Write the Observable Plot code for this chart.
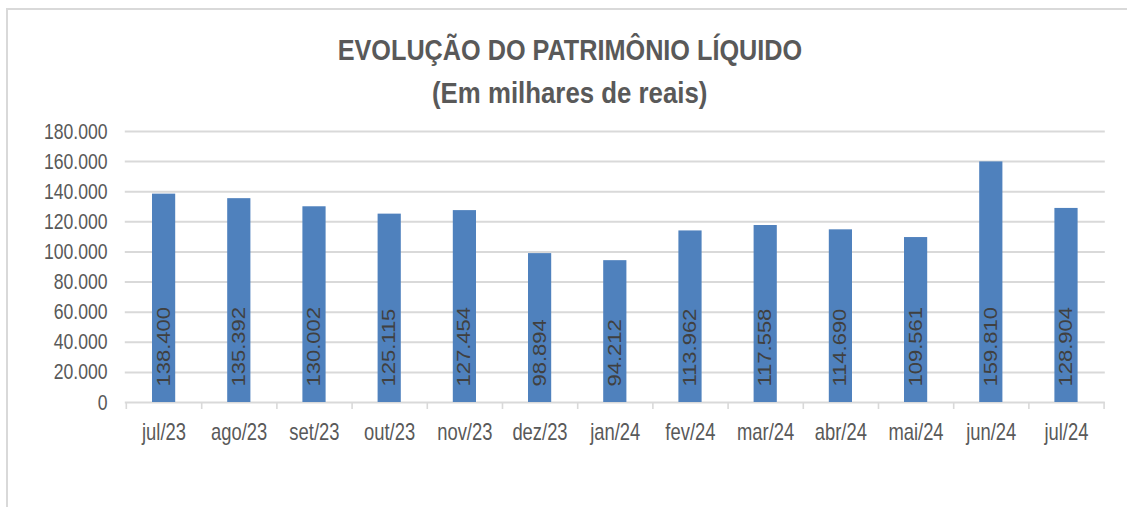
<!DOCTYPE html>
<html><head><meta charset="utf-8">
<script src="https://cdn.jsdelivr.net/npm/d3@7"></script>
<script src="https://cdn.jsdelivr.net/npm/@observablehq/plot@0.6"></script>
<style>
html,body{margin:0;padding:0;background:#fff;width:1127px;height:507px;overflow:hidden;}
#frame{position:absolute;left:6px;top:8px;width:1200px;height:600px;border-top:2px solid #d9d9d9;border-left:2px solid #d9d9d9;box-sizing:border-box;pointer-events:none;}
.t{position:absolute;left:0;width:1140px;text-align:center;color:#595959;font-family:"Liberation Sans",Arial,sans-serif;font-weight:bold;font-size:29px;line-height:1;white-space:nowrap;}
.t span{display:inline-block;transform-origin:50% 50%;}
#title{top:36px;}
#title span{transform:scaleX(0.87);}
#subtitle{top:79px;}
#subtitle span{transform:scaleX(0.89);}
#chart{position:absolute;left:0;top:100px;width:1409px;height:407px;transform:scaleX(0.8);transform-origin:0 0;}
#chart svg{max-width:none !important;width:1409px;height:407px;}
</style></head><body>
<div id="frame"></div>
<div class="t" id="title"><span>EVOLUÇÃO DO PATRIMÔNIO LÍQUIDO</span></div>
<div class="t" id="subtitle"><span>(Em milhares de reais)</span></div>
<div id="chart"></div>
<script>
const months = ["jul/23","ago/23","set/23","out/23","nov/23","dez/23","jan/24","fev/24","mar/24","abr/24","mai/24","jun/24","jul/24"];
const values = [138400, 135392, 130002, 125115, 127454, 98894, 94212, 113962, 117558, 114690, 109561, 159810, 128904];
const yTicks = [0, 20000, 40000, 60000, 80000, 100000, 120000, 140000, 160000, 180000];

const data = months.map((m, i) => ({month: m, value: values[i]}));
const loc = d3.formatLocale({decimal: ",", thousands: ".", grouping: [3], currency: ["R$", ""]});
const fmt = loc.format(",d");

// chart is drawn wider and squeezed horizontally (scaleX 0.8) like the reference
const W = 1409, H = 407, mL = 156, mR = 28, mT = 31, mB = 105;
const step = (W - mL - mR) / months.length;
const font = '"Liberation Sans", Arial, sans-serif';
const tickStyle = {y1: 0, y2: 0, insetBottom: -7, stroke: "#d9d9d9", strokeWidth: 2};

const chart = Plot.plot({
  width: W, height: H,
  marginLeft: mL, marginRight: mR, marginTop: mT, marginBottom: mB,
  style: {background: "none", fontFamily: font, fontSize: "22px", color: "#595959", overflow: "visible", maxWidth: "none"},
  x: {domain: months, paddingInner: 0.69, paddingOuter: 0.345, align: 0.5},
  y: {domain: [0, 180000]},
  marks: [
    Plot.ruleY(yTicks, {stroke: "#d9d9d9", strokeWidth: 2}),
    Plot.barY(data, {x: "month", y: "value", fill: "#4f81bd"}),
    Plot.ruleX(months, {x: d => d, ...tickStyle, dx: step / 2}),
    Plot.ruleX(months.slice(0, 1), {x: d => d, ...tickStyle, dx: -step / 2}),
    Plot.axisY(yTicks, {tickSize: 0, tickPadding: 22, tickFormat: fmt, fontSize: 22, label: null}),
    Plot.axisX({tickSize: 0, tickPadding: 21, fontSize: 23, label: null}),
    Plot.text(data, {x: "month", y: 0, text: d => fmt(d.value), rotate: -90, textAnchor: "start", dy: -16,
      fontSize: 22, fill: "#404040"})
  ]
});
document.getElementById("chart").appendChild(chart);
</script>
</body></html>
